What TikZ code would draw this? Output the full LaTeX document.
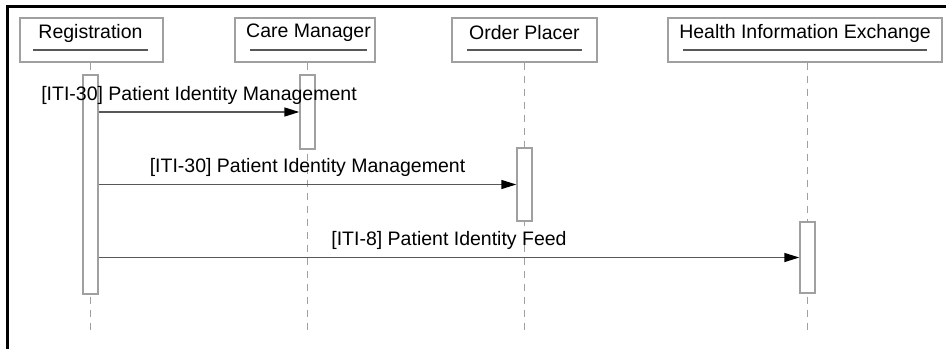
\documentclass[tikz,border=0pt]{standalone}
\usepackage{fontspec}
\setmainfont{Liberation Sans}
\usetikzlibrary{arrows.meta}
\definecolor{boxgray}{HTML}{A0A0A0}
\definecolor{linegray}{HTML}{585858}
\begin{document}
\begin{tikzpicture}[x=1pt,y=-1pt,
  every node/.style={font=\fontsize{19.5}{23}\selectfont, inner sep=0pt},
  actorbox/.style={draw=boxgray, line width=1.4pt, fill=white, minimum height=44pt},
  actorlabel/.style={anchor=center},
  underl/.style={draw=linegray, line width=1.6pt},
  lifeline/.style={draw=boxgray, line width=1.2pt, dash pattern=on 7pt off 6pt},
  actbox/.style={draw=boxgray, line width=1.4pt, fill=white, minimum width=15pt},
  msg/.style={draw=linegray, line width=1.4pt, -{Triangle[length=15pt,width=9pt,fill=black,color=black]}},
  msglabel/.style={anchor=center}]
\useasboundingbox (0,0) rectangle (946,349);
\fill[white] (0,0) rectangle (946,349);
% frame
\draw[line width=2.5pt, black] (7.5,349) -- (7.5,6.5) -- (946,6.5);
% actors
\node[actorbox, minimum width=143pt] (rbox) at (91.5,40) {};
\node[actorbox, minimum width=140pt] (cbox) at (305,40) {};
\node[actorbox, minimum width=145pt] (obox) at (524.5,40) {};
\node[actorbox, minimum width=274pt] (hbox) at (805,40) {};
\node[actorlabel] (rlab) at (90.5,33) {Registration};
\node[actorlabel] (clab) at (308.5,33) {Care Manager};
\node[actorlabel] (olab) at (524.5,33) {Order Placer};
\node[actorlabel] (hlab) at (805,33) {Health Information Exchange};
\draw[underl] (33,50) -- (148,50);
\draw[underl] (250,50) -- (367,50);
\draw[underl] (467,50) -- (582,50);
\draw[underl] (683,50) -- (927,50);
% lifeline ends
\coordinate (rend) at (90.5,332);
\coordinate (cend) at (307.5,332);
\coordinate (oend) at (524.5,332);
\coordinate (hend) at (807.5,332);
\draw[lifeline] (rbox.south -| rend) -- (rend);
\draw[lifeline] (cbox.south -| cend) -- (cend);
\draw[lifeline] (obox.south -| oend) -- (oend);
\draw[lifeline] (hbox.south -| hend) -- (hend);
% activations
\node[actbox, minimum height=219pt] (ract) at (90.5,184.5) {};
\node[actbox, minimum height=74pt] (cact) at (307.5,112) {};
\node[actbox, minimum height=73pt] (oact) at (524.5,184.5) {};
\node[actbox, minimum height=71pt] (hact) at (807.5,257.5) {};
% messages
\draw[msg] (ract.east |- cact.west) -- (cact.west)
  node[msglabel, pos=0.5, yshift=17pt] (m1) {[ITI-30] Patient Identity Management};
\draw[msg] (ract.east |- oact.west) -- (oact.west)
  node[msglabel, pos=0.5, yshift=17pt] (m2) {[ITI-30] Patient Identity Management};
\draw[msg] (ract.east |- hact.west) -- (hact.west)
  node[msglabel, pos=0.5, yshift=17pt] (m3) {[ITI-8] Patient Identity Feed};
\end{tikzpicture}
\end{document}
